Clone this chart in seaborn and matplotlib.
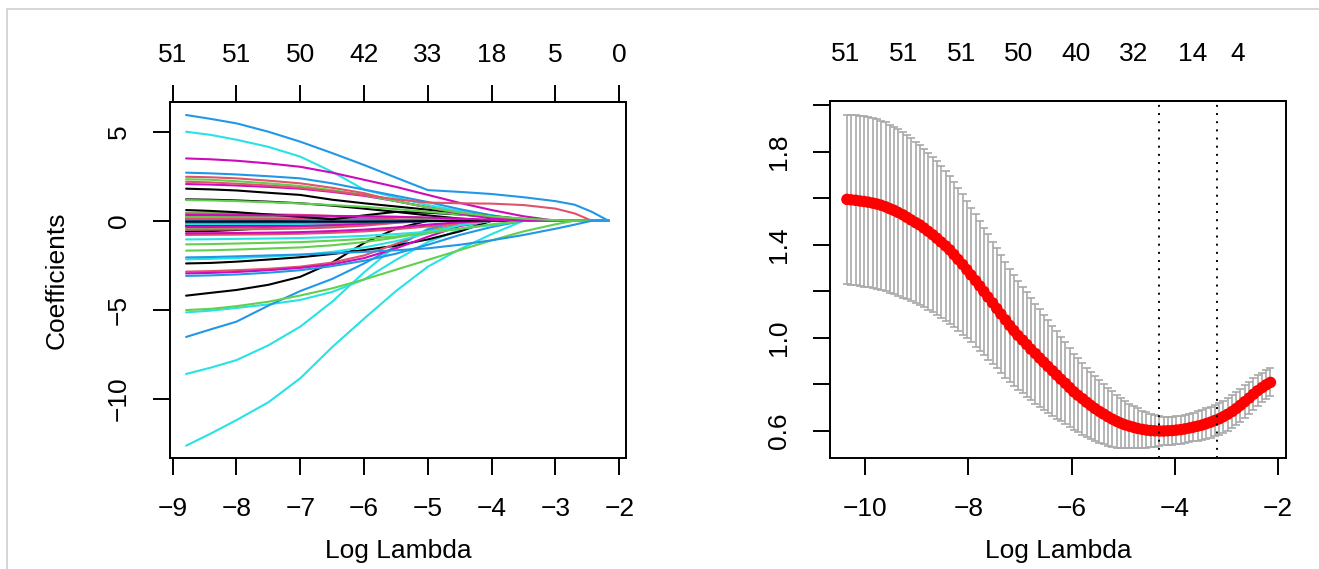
import numpy as np
import pandas as pd
import matplotlib
matplotlib.use("Agg")
import matplotlib.pyplot as plt
from matplotlib.lines import Line2D
import seaborn as sns

# ------------------------------------------------------------------
# Left panel: lasso coefficient paths (values read at these log-lambdas)
# ------------------------------------------------------------------
log_lambda_grid = [-8.79, -8.4, -8.0, -7.5, -7.0, -6.5, -6.0, -5.5,
                   -5.0, -4.5, -4.0, -3.5, -3.0, -2.7, -2.43, -2.17]

coef_01 = [0.05, 0.04, 0.03, 0.01, 0, 0, 0, 0, 0, 0, 0, 0, 0, 0, 0, 0]
coef_02 = [-0.6, -0.58, -0.52, -0.4, -0.22, -0.06, 0, 0, 0, 0, 0, 0, 0, 0, 0, 0]
coef_03 = [0.25, 0.25, 0.24, 0.2, 0.13, 0.04, 0, 0, 0, 0, 0, 0, 0, 0, 0, 0]
coef_04 = [-0.15, -0.15, -0.14, -0.12, -0.08, -0.03, 0, 0, 0, 0, 0, 0, 0, 0, 0, 0]
coef_05 = [0.1, 0.1, 0.1, 0.09, 0.06, 0.02, 0, 0, 0, 0, 0, 0, 0, 0, 0, 0]
coef_06 = [0.3, 0.3, 0.29, 0.26, 0.18, 0.06, 0, 0, 0, 0, 0, 0, 0, 0, 0, 0]
coef_07 = [-0.2, -0.2, -0.19, -0.16, -0.1, -0.03, 0, 0, 0, 0, 0, 0, 0, 0, 0, 0]
coef_08 = [-0.25, -0.25, -0.24, -0.2, -0.13, -0.04, 0, 0, 0, 0, 0, 0, 0, 0, 0, 0]
coef_09 = [0.45, 0.44, 0.42, 0.36, 0.24, 0.08, 0, 0, 0, 0, 0, 0, 0, 0, 0, 0]
coef_10 = [-0.3, -0.3, -0.3, -0.29, -0.27, -0.22, -0.15, -0.06, 0, 0, 0, 0, 0, 0, 0, 0]
coef_11 = [-4.21, -4.05, -3.89, -3.6, -3.15, -2.35, -1.25, -0.45, 0, 0, 0, 0, 0, 0, 0, 0]
coef_12 = [0.4, 0.39, 0.38, 0.36, 0.33, 0.27, 0.18, 0.08, 0, 0, 0, 0, 0, 0, 0, 0]
coef_13 = [0.1, 0.1, 0.1, 0.1, 0.1, 0.09, 0.07, 0.03, 0, 0, 0, 0, 0, 0, 0, 0]
coef_14 = [-0.45, -0.45, -0.44, -0.42, -0.39, -0.33, -0.24, -0.1, 0, 0, 0, 0, 0, 0, 0, 0]
coef_15 = [-0.2, -0.2, -0.2, -0.2, -0.19, -0.17, -0.13, -0.06, 0, 0, 0, 0, 0, 0, 0, 0]
coef_16 = [-0.5, -0.5, -0.49, -0.47, -0.44, -0.38, -0.28, -0.12, 0, 0, 0, 0, 0, 0, 0, 0]
coef_17 = [-0.35, -0.35, -0.34, -0.33, -0.3, -0.25, -0.17, -0.07, 0, 0, 0, 0, 0, 0, 0, 0]
coef_18 = [0.05, 0.05, 0.06, 0.07, 0.08, 0.08, 0.06, 0.03, 0, 0, 0, 0, 0, 0, 0, 0]
coef_19 = [-5.15, -5.05, -4.9, -4.7, -4.45, -4.0, -3.3, -2.2, -1.2, -0.5, 0, 0, 0, 0, 0, 0]
coef_20 = [-8.61, -8.25, -7.83, -7.0, -5.95, -4.55, -2.9, -1.4, -0.45, 0, 0, 0, 0, 0, 0, 0]
coef_21 = [-6.53, -6.1, -5.67, -4.77, -3.95, -3.27, -2.4, -1.45, -0.5, 0, 0, 0, 0, 0, 0, 0]
coef_22 = [-2.4, -2.37, -2.3, -2.18, -2.05, -1.87, -1.65, -1.4, -1.05, -0.6, 0, 0, 0, 0, 0, 0]
coef_23 = [-2.86, -2.83, -2.78, -2.7, -2.58, -2.35, -1.95, -1.3, -0.6, -0.15, 0, 0, 0, 0, 0, 0]
coef_24 = [-2.96, -2.93, -2.88, -2.78, -2.65, -2.45, -2.1, -1.55, -0.9, -0.3, 0, 0, 0, 0, 0, 0]
coef_25 = [1.2, 1.18, 1.14, 1.07, 0.98, 0.85, 0.68, 0.5, 0.3, 0.12, 0, 0, 0, 0, 0, 0]
coef_26 = [-1.68, -1.66, -1.62, -1.56, -1.5, -1.38, -1.2, -0.95, -0.6, -0.25, 0, 0, 0, 0, 0, 0]
coef_27 = [-2.17, -2.14, -2.1, -2.02, -1.92, -1.75, -1.5, -1.15, -0.7, -0.25, 0, 0, 0, 0, 0, 0]
coef_28 = [-0.8, -0.79, -0.78, -0.76, -0.73, -0.68, -0.6, -0.48, -0.32, -0.12, 0, 0, 0, 0, 0, 0]
coef_29 = [-0.71, -0.7, -0.69, -0.67, -0.64, -0.58, -0.5, -0.38, -0.22, -0.08, 0, 0, 0, 0, 0, 0]
coef_30 = [0.15, 0.15, 0.15, 0.15, 0.16, 0.18, 0.2, 0.2, 0.15, 0.06, 0, 0, 0, 0, 0, 0]
coef_31 = [0.22, 0.22, 0.22, 0.22, 0.23, 0.24, 0.25, 0.22, 0.15, 0.05, 0, 0, 0, 0, 0, 0]
coef_32 = [-0.1, -0.1, -0.1, -0.1, -0.1, -0.1, -0.08, -0.05, -0.03, -0.01, 0, 0, 0, 0, 0, 0]
coef_33 = [-0.05, -0.05, -0.05, -0.05, -0.05, -0.05, -0.05, -0.04, -0.02, 0, 0, 0, 0, 0, 0, 0]
coef_34 = [5.0, 4.82, 4.55, 4.15, 3.6, 2.75, 1.75, 1.3, 0.88, 0.55, 0.3, 0, 0, 0, 0, 0]
coef_35 = [3.5, 3.45, 3.37, 3.22, 3.03, 2.7, 2.3, 1.9, 1.45, 1.0, 0.6, 0.25, 0, 0, 0, 0]
coef_36 = [2.7, 2.66, 2.6, 2.5, 2.38, 2.1, 1.75, 1.4, 1.05, 0.65, 0.3, 0.05, 0, 0, 0, 0]
coef_37 = [1.8, 1.76, 1.7, 1.57, 1.45, 1.18, 0.98, 0.8, 0.62, 0.41, 0.25, 0.1, 0, 0, 0, 0]
coef_38 = [0.6, 0.55, 0.48, 0.35, 0.22, 0.08, 0.3, 0.5, 0.45, 0.35, 0.22, 0.08, 0, 0, 0, 0]
coef_39 = [-12.64, -11.95, -11.2, -10.2, -8.85, -7.1, -5.5, -3.95, -2.58, -1.6, -0.75, 0, 0, 0, 0, 0]
coef_40 = [1.16, 1.14, 1.1, 1.04, 0.97, 0.88, 0.78, 0.65, 0.5, 0.35, 0.2, 0.05, 0, 0, 0, 0]
coef_41 = [2.47, 2.44, 2.38, 2.25, 2.1, 1.85, 1.55, 1.1, 0.75, 0.45, 0.2, 0, 0, 0, 0, 0]
coef_42 = [2.06, 2.03, 1.98, 1.9, 1.8, 1.62, 1.4, 1.1, 0.75, 0.4, 0.12, 0, 0, 0, 0, 0]
coef_43 = [-3.1, -3.07, -3.02, -2.92, -2.78, -2.55, -2.25, -1.85, -1.35, -0.8, -0.35, 0, 0, 0, 0, 0]
coef_44 = [-1.05, -1.04, -1.02, -1.0, -0.97, -0.92, -0.85, -0.75, -0.62, -0.45, -0.25, 0, 0, 0, 0, 0]
coef_45 = [-1.33, -1.31, -1.28, -1.24, -1.2, -1.12, -1.02, -0.88, -0.7, -0.45, -0.2, 0, 0, 0, 0, 0]
coef_46 = [0.32, 0.32, 0.31, 0.3, 0.29, 0.27, 0.25, 0.22, 0.18, 0.12, 0.05, 0, 0, 0, 0, 0]
coef_47 = [2.33, 2.3, 2.22, 2.1, 1.95, 1.72, 1.45, 1.1, 0.75, 0.45, 0.25, 0.12, 0.03, 0, 0, 0]
coef_48 = [2.19, 2.15, 2.08, 1.98, 1.85, 1.66, 1.45, 1.2, 1.02, 0.98, 0.96, 0.88, 0.68, 0.41, 0, 0]
coef_49 = [5.94, 5.72, 5.47, 5.0, 4.44, 3.8, 3.13, 2.42, 1.72, 1.62, 1.5, 1.32, 1.1, 0.9, 0.5, 0]
coef_50 = [-5.02, -4.95, -4.8, -4.55, -4.2, -3.8, -3.3, -2.75, -2.2, -1.65, -1.1, -0.6, -0.2, 0, 0, 0]
coef_51 = [-2.06, -2.04, -2.0, -1.95, -1.9, -1.83, -1.75, -1.66, -1.55, -1.35, -1.1, -0.8, -0.45, -0.22, 0, 0]

coef_colour = ["black", "black", "red", "green", "blue", "cyan", "magenta", "red", "green",
               "black", "black", "red", "magenta", "green", "cyan", "red", "magenta", "blue",
               "cyan", "cyan", "blue", "black", "red", "magenta", "black", "green", "cyan",
               "red", "magenta", "red", "green", "blue", "black",
               "cyan", "magenta", "blue", "black", "black", "cyan", "green", "red", "magenta",
               "blue", "cyan", "green", "magenta",
               "green", "red", "blue", "green", "blue"]

left_axis_ticks = [-9, -8, -7, -6, -5, -4, -3, -2]
left_df_labels = ["51", "51", "50", "42", "33", "18", "5", "0"]
left_y_ticks = [-10, -5, 0, 5]

# ------------------------------------------------------------------
# Right panel: cross-validation curve
# ------------------------------------------------------------------
cv_log_lambda = [-10.35, -10.27, -10.18, -10.10, -10.02, -9.94, -9.85, -9.77, -9.69, -9.60,
                 -9.52, -9.44, -9.36, -9.27, -9.19, -9.11, -9.02, -8.94, -8.86, -8.78,
                 -8.69, -8.61, -8.53, -8.44, -8.36, -8.28, -8.20, -8.11, -8.03, -7.95,
                 -7.86, -7.78, -7.70, -7.62, -7.53, -7.45, -7.37, -7.28, -7.20, -7.12,
                 -7.04, -6.95, -6.87, -6.79, -6.70, -6.62, -6.54, -6.46, -6.37, -6.29,
                 -6.21, -6.12, -6.04, -5.96, -5.88, -5.79, -5.71, -5.63, -5.55, -5.46,
                 -5.38, -5.30, -5.21, -5.13, -5.05, -4.97, -4.88, -4.80, -4.72, -4.63,
                 -4.55, -4.47, -4.39, -4.30, -4.22, -4.14, -4.05, -3.97, -3.89, -3.81,
                 -3.72, -3.64, -3.56, -3.47, -3.39, -3.31, -3.23, -3.14, -3.06, -2.98,
                 -2.89, -2.81, -2.73, -2.65, -2.56, -2.48, -2.40, -2.31, -2.23, -2.15]
cv_mean = [1.595, 1.593, 1.591, 1.588, 1.586, 1.583, 1.579, 1.575, 1.570, 1.563,
           1.555, 1.548, 1.539, 1.529, 1.518, 1.507, 1.495, 1.485, 1.472, 1.458,
           1.443, 1.428, 1.412, 1.395, 1.378, 1.358, 1.337, 1.315, 1.293, 1.270,
           1.246, 1.223, 1.199, 1.175, 1.150, 1.126, 1.102, 1.077, 1.053, 1.031,
           1.010, 0.990, 0.971, 0.951, 0.932, 0.913, 0.895, 0.877, 0.858, 0.840,
           0.822, 0.804, 0.786, 0.768, 0.753, 0.738, 0.723, 0.709, 0.696, 0.683,
           0.672, 0.661, 0.650, 0.641, 0.633, 0.626, 0.620, 0.615, 0.610, 0.606,
           0.603, 0.601, 0.600, 0.599, 0.599, 0.600, 0.601, 0.603, 0.605, 0.608,
           0.612, 0.616, 0.620, 0.625, 0.631, 0.637, 0.644, 0.652, 0.661, 0.671,
           0.683, 0.696, 0.710, 0.725, 0.741, 0.757, 0.772, 0.786, 0.798, 0.808]
cv_se = [0.364, 0.365, 0.365, 0.366, 0.366, 0.366, 0.366, 0.365, 0.364, 0.363,
         0.361, 0.360, 0.358, 0.356, 0.353, 0.350, 0.347, 0.344, 0.341, 0.337,
         0.333, 0.330, 0.326, 0.321, 0.317, 0.312, 0.307, 0.301, 0.296, 0.290,
         0.285, 0.279, 0.274, 0.269, 0.263, 0.258, 0.254, 0.249, 0.244, 0.239,
         0.234, 0.229, 0.225, 0.220, 0.215, 0.210, 0.205, 0.200, 0.194, 0.188,
         0.182, 0.176, 0.170, 0.164, 0.159, 0.154, 0.149, 0.144, 0.139, 0.134,
         0.130, 0.125, 0.119, 0.113, 0.107, 0.101, 0.096, 0.091, 0.086, 0.081,
         0.076, 0.072, 0.068, 0.065, 0.062, 0.061, 0.060, 0.060, 0.060, 0.060,
         0.061, 0.062, 0.063, 0.064, 0.065, 0.066, 0.067, 0.068, 0.069, 0.070,
         0.070, 0.071, 0.071, 0.070, 0.069, 0.068, 0.066, 0.064, 0.062, 0.060]
lambda_min_log = -4.31
lambda_1se_log = -3.19

right_top_positions = [-10.37, -9.26, -8.14, -7.02, -5.91, -4.79, -3.65, -2.78]
right_df_labels = ["51", "51", "51", "50", "40", "32", "14", "4"]
right_x_ticks = [-10, -8, -6, -4, -2]
right_y_ticks = [0.6, 0.8, 1.0, 1.2, 1.4, 1.6, 1.8, 2.0]
right_y_labels = ["0.6", "", "1.0", "", "1.4", "", "1.8", ""]

# ------------------------------------------------------------------
R_PALETTE = {"black": "#000000", "red": "#DF536B", "green": "#61D04F",
             "blue": "#2297E6", "cyan": "#28E2E5", "magenta": "#CD0BBC"}

sns.set_theme(style="ticks")
plt.rcParams["font.family"] = ["Liberation Sans", "DejaVu Sans"]
plt.rcParams["axes.unicode_minus"] = True
for key in ("text.color", "axes.labelcolor", "xtick.color", "ytick.color",
            "xtick.labelcolor", "ytick.labelcolor", "axes.edgecolor"):
    plt.rcParams[key] = "black"

FS = 19
TICK_LEN = 12
TICK_PAD = 16
SPINE_W = 1.4

fig = plt.figure(figsize=(13.19, 5.69), dpi=100)
W, H = 1319, 569
ax1 = fig.add_axes([170 / W, (H - 458) / H, 456 / W, 356 / H])
ax2 = fig.add_axes([830 / W, (H - 458) / H, 456 / W, 357 / H])

# ---- left panel
coef_names = [f"coef_{i:02d}" for i in range(1, 52)]
coef_lists = [globals()[n] for n in coef_names]
rows = []
for name, vals in zip(coef_names, coef_lists):
    for x, v in zip(log_lambda_grid, vals):
        rows.append((name, x, v))
paths = pd.DataFrame(rows, columns=["coef", "log_lambda", "value"])
palette = {n: R_PALETTE[c] for n, c in zip(coef_names, coef_colour)}
sns.lineplot(data=paths, x="log_lambda", y="value", hue="coef", hue_order=coef_names,
             palette=palette, estimator=None, sort=False, legend=False,
             linewidth=1.5, ax=ax1)

ax1.set_xlim(-9.042, -1.895)
ax1.set_ylim(-13.33, 6.67)
ax1.set_xticks(left_axis_ticks)
ax1.set_xticklabels([str(t).replace("-", "\u2212") for t in left_axis_ticks])
ax1.set_yticks(left_y_ticks)
ax1.set_yticklabels([str(t).replace("-", "\u2212") for t in left_y_ticks])
ax1.set_xlabel("Log Lambda", fontsize=FS, color="black")
ax1.set_ylabel("Coefficients", fontsize=FS, color="black")

top1 = ax1.secondary_xaxis("top")
top1.set_xticks(left_axis_ticks)
top1.set_xticklabels(left_df_labels)
top1.tick_params(direction="out", length=TICK_LEN, width=SPINE_W, labelsize=FS,
                 pad=TICK_PAD - 3, colors="black")
top1.spines["top"].set_linewidth(SPINE_W)

# ---- right panel
ax2.errorbar(cv_log_lambda, cv_mean, yerr=cv_se, fmt="none", ecolor="#A9A9A9",
             elinewidth=1.2, capsize=3.2, capthick=1.2, zorder=2)
sns.scatterplot(x=cv_log_lambda, y=cv_mean, color="#FF0000", s=68, edgecolor="none",
                linewidth=0, ax=ax2, zorder=3)
for v in (lambda_min_log, lambda_1se_log):
    ax2.axvline(v, color="black", linestyle=(0, (1, 3.2)), linewidth=1.4, zorder=4)

ax2.set_xlim(-10.678, -1.849)
ax2.set_ylim(0.483, 2.018)
ax2.set_xticks(right_x_ticks)
ax2.set_xticklabels([str(t).replace("-", "\u2212") for t in right_x_ticks])
ax2.set_yticks(right_y_ticks)
ax2.set_yticklabels(right_y_labels)
ax2.set_xlabel("Log Lambda", fontsize=FS, color="black")

top2 = ax2.secondary_xaxis("top")
top2.set_xticks(right_top_positions)
top2.set_xticklabels(right_df_labels)
top2.tick_params(direction="out", length=0, labelsize=FS, pad=TICK_LEN + TICK_PAD - 3,
                 colors="black")
top2.spines["top"].set_linewidth(SPINE_W)

for ax in (ax1, ax2):
    for s in ax.spines.values():
        s.set_visible(True)
        s.set_linewidth(SPINE_W)
        s.set_color("black")
    ax.tick_params(direction="out", length=TICK_LEN, width=SPINE_W, labelsize=FS,
                   pad=TICK_PAD, colors="black")
    ax.tick_params(axis="y", labelrotation=90)
    for lab in ax.get_yticklabels():
        lab.set_va("center")
    ax.xaxis.set_label_coords(0.5, -0.228)
    ax.grid(False)
    ax.set_facecolor("white")
ax1.yaxis.set_label_coords(-0.222, 0.5)

# thin grey frame of the original screenshot (top and left edges)
fig.add_artist(Line2D([7 / W, 1], [1 - 9 / H, 1 - 9 / H], color="#D0D0D0", lw=1.2,
                      transform=fig.transFigure))
fig.add_artist(Line2D([7 / W, 7 / W], [0, 1 - 9 / H], color="#D0D0D0", lw=1.2,
                      transform=fig.transFigure))

fig.savefig("out.png", dpi=100, facecolor="white")
